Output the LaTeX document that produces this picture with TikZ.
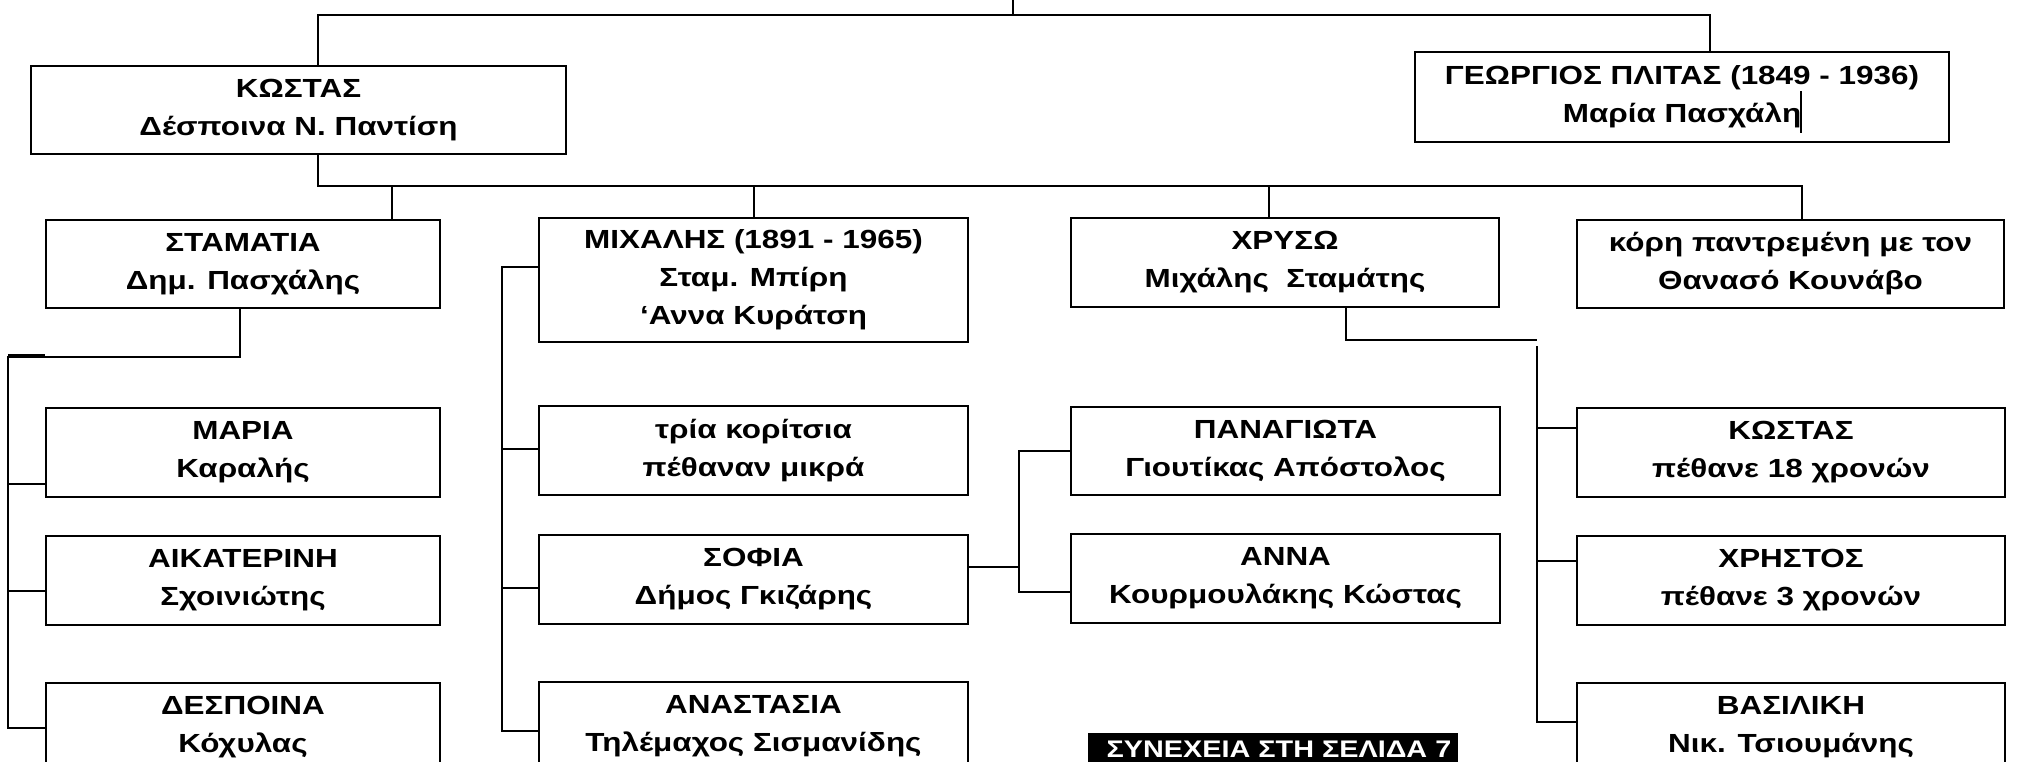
\documentclass[tikz,border=0pt]{standalone}
\usepackage{fontspec}
\setmainfont{Liberation Sans}[FakeStretch=1.2]
\begin{document}
\begin{tikzpicture}[x=0.5pt,y=-0.5pt,
  box/.style={draw, line width=1.35pt, inner sep=0pt, align=center,
    font=\bfseries\fontsize{13.1}{19}\selectfont},
  conn/.style={line width=1pt}]
\useasboundingbox (0,0) rectangle (2020,761);
\clip (0,0) rectangle (2020,761);
% boxes
\node[box, minimum width=267.5pt, minimum height=44pt] (kostas) at (298.5,110) {ΚΩΣΤΑΣ\\Δέσποινα Ν. Παντίση};
\node[box, minimum width=267pt, minimum height=45pt] (georgios) at (1682,97) {ΓΕΩΡΓΙΟΣ ΠΛΙΤΑΣ (1849 - 1936)\\Μαρία Πασχάλη};
\node[box, minimum width=197pt, minimum height=44pt] (stamatia) at (243,264) {ΣΤΑΜΑΤΙΑ\\Δημ. Πασχάλης};
\node[box, minimum width=214.5pt, minimum height=62pt] (michalis) at (753.5,280) {ΜΙΧΑΛΗΣ (1891 - 1965)\\Σταμ. Μπίρη\\‘Αννα Κυράτση};
\node[box, minimum width=214pt, minimum height=44.5pt] (chryso) at (1285,262.5) {ΧΡΥΣΩ\\Μιχάλης~ Σταμάτης};
\node[box, minimum width=213.5pt, minimum height=44pt] (kori) at (1790.5,264) {κόρη παντρεμένη με τον\\Θανασό Κουνάβο};
\node[box, minimum width=197pt, minimum height=44.5pt] (maria) at (243,452.5) {ΜΑΡΙΑ\\Καραλής};
\node[box, minimum width=197pt, minimum height=44.5pt] (aikaterini) at (243,580.5) {ΑΙΚΑΤΕΡΙΝΗ\\Σχοινιώτης};
\node[box, minimum width=197pt, minimum height=44.5pt] (despoina) at (243,727.5) {ΔΕΣΠΟΙΝΑ\\Κόχυλας};
\node[box, minimum width=214.5pt, minimum height=44.5pt] (tria) at (753.5,450.5) {τρία κορίτσια\\πέθαναν μικρά};
\node[box, minimum width=214.5pt, minimum height=44.5pt] (sofia) at (753.5,579.5) {ΣΟΦΙΑ\\Δήμος Γκιζάρης};
\node[box, minimum width=214.5pt, minimum height=44.5pt] (anastasia) at (753.5,726.5) {ΑΝΑΣΤΑΣΙΑ\\Τηλέμαχος Σισμανίδης};
\node[box, minimum width=214.5pt, minimum height=44pt] (panagiota) at (1285.5,451) {ΠΑΝΑΓΙΩΤΑ\\Γιουτίκας Απόστολος};
\node[box, minimum width=214.5pt, minimum height=44.5pt] (anna) at (1285.5,578.5) {ΑΝΝΑ\\Κουρμουλάκης Κώστας};
\node[box, minimum width=214pt, minimum height=44.5pt] (kostasb) at (1791,452.5) {ΚΩΣΤΑΣ\\πέθανε 18 χρονών};
\node[box, minimum width=214pt, minimum height=44.5pt] (christos) at (1791,580.5) {ΧΡΗΣΤΟΣ\\πέθανε 3 χρονών};
\node[box, minimum width=214pt, minimum height=44.5pt] (vasiliki) at (1791,727.5) {ΒΑΣΙΛΙΚΗ\\Νικ. Τσιουμάνης};
\node[fill=black, text=white, inner sep=0pt, minimum width=185pt, minimum height=16pt,
  font=\bfseries\fontsize{12}{14}\selectfont] (synecheia) at (1273,749) {\hspace{6pt}ΣΥΝΕΧΕΙΑ ΣΤΗ ΣΕΛΙΔΑ 7};
% top connectors
\coordinate (t0) at (1013,0);
\coordinate (tL) at (318,15);
\coordinate (tR) at (1710,15);
\draw[conn] (t0) -- (t0 |- tL);
\draw[conn] (kostas.north -| tL) -- (tL) -- (tR) -- (georgios.north -| tR);
% children of kostas
\coordinate (k1) at (318,186);
\coordinate (k2) at (1802,186);
\coordinate (k3) at (392,186);
\coordinate (k4) at (754,186);
\coordinate (k5) at (1269,186);
\draw[conn] (kostas.south -| k1) -- (k1) -- (k2) -- (k2 |- kori.north);
\draw[conn] (k3) -- (k3 |- stamatia.north);
\draw[conn] (k4) -- (k4 |- michalis.north);
\draw[conn] (k5) -- (k5 |- chryso.north);
% children of stamatia
\coordinate (s1) at (240,357);
\coordinate (s2) at (8,357);
\coordinate (s3) at (8,484);
\coordinate (s4) at (8,591);
\coordinate (s5) at (8,728);
\draw[conn] (stamatia.south -| s1) -- (s1) -- (s2) -- (s5) -- (s5 -| despoina.west);
\draw[conn] (s3) -- (s3 -| maria.west);
\draw[conn] (s4) -- (s4 -| aikaterini.west);
\coordinate (s6) at (45,356);
\draw[line width=1.8pt] (s2) ++(0,-1) -- (s6);
% children of michalis
\coordinate (m0) at (502,267);
\coordinate (m1) at (502,449);
\coordinate (m2) at (502,588);
\coordinate (m3) at (502,731);
\draw[conn] (m0 -| michalis.west) -- (m0) -- (m3) -- (m3 -| anastasia.west);
\draw[conn] (m1) -- (m1 -| tria.west);
\draw[conn] (m2) -- (m2 -| sofia.west);
% children of sofia
\coordinate (f0) at (1019,567);
\coordinate (f1) at (1019,451);
\coordinate (f2) at (1019,592);
\draw[conn] (f0 -| sofia.east) -- (f0);
\draw[conn] (f1 -| panagiota.west) -- (f1) -- (f2) -- (f2 -| anna.west);
% children of chryso
\coordinate (c1) at (1346,340);
\coordinate (c2) at (1537,340);
\coordinate (c3) at (1537,346);
\coordinate (c4) at (1537,428);
\coordinate (c5) at (1537,561);
\coordinate (c6) at (1537,722);
\draw[conn] (chryso.south -| c1) -- (c1) -- (c2);
\draw[conn] (c3) -- (c6) -- (c6 -| vasiliki.west);
\draw[conn] (c4) -- (c4 -| kostasb.west);
\draw[conn] (c5) -- (c5 -| christos.west);
% stray mark in georgios box
\coordinate (g1) at (1801,91);
\coordinate (g2) at (1801,133);
\draw[line width=0.6pt] (g1) -- (g2);
\end{tikzpicture}
\end{document}
